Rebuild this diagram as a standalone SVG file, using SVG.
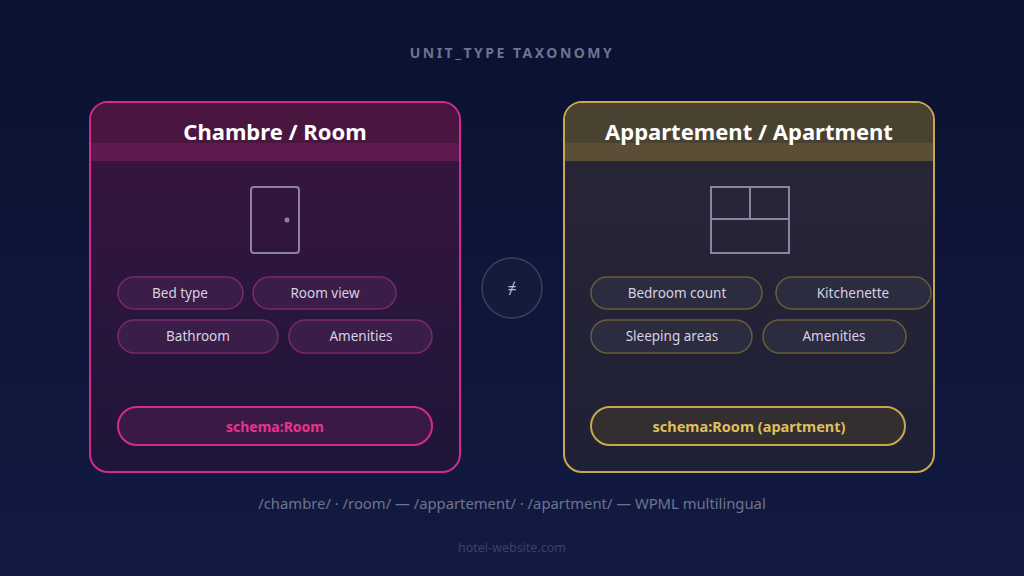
<svg xmlns="http://www.w3.org/2000/svg" width="1024" height="576" viewBox="0 0 1024 576">
<defs>
<linearGradient id="bg" x1="0" y1="0" x2="0" y2="1"><stop offset="0" stop-color="#0b1130"/><stop offset="1" stop-color="#121a42"/></linearGradient>
<linearGradient id="pk" x1="0" y1="0" x2="0" y2="1"><stop offset="0" stop-color="#3a1540"/><stop offset="1" stop-color="#1e1538"/></linearGradient>
<linearGradient id="gd" x1="0" y1="0" x2="0" y2="1"><stop offset="0" stop-color="#2a2636"/><stop offset="1" stop-color="#1e2036"/></linearGradient>
<style>
text{font-family:"Noto Sans","Open Sans",sans-serif;text-anchor:middle}
.t{font-size:22px;font-weight:bold;fill:#fff}
.c{font-size:13.5px;fill:#d6d2e0}
.pc{fill:#3a1d48;stroke:#7a2a6a;stroke-width:1.5}
.gc{fill:#2c2c40;stroke:#6a5d3a;stroke-width:1.5}
.ic{fill:none;stroke:#8a84a0;stroke-width:2}
</style>
</defs>
<rect width="1024" height="576" fill="url(#bg)"/>
<text x="512" y="58" style="font-size:14px;font-weight:bold;letter-spacing:2.5px;fill:#6e7490">UNIT_TYPE TAXONOMY</text>
<g id="room">
<rect x="90" y="102" width="370" height="370" rx="18" fill="url(#pk)" stroke="#d42a8e" stroke-width="2"/>
<path d="M108 103h334a17 17 0 0 1 17 17v40h-368v-40a17 17 0 0 1 17-17z" fill="#4a1640"/>
<rect x="91" y="143" width="368" height="18" fill="#5e1a4e"/>
<text class="t" x="275" y="140">Chambre / Room</text>
<rect class="ic" x="251" y="187" width="48" height="66" rx="3"/>
<circle cx="287" cy="220" r="2.5" fill="#8a84a0"/>
<rect class="pc" x="118" y="277" width="125" height="32" rx="16"/><text class="c" x="180" y="298">Bed type</text>
<rect class="pc" x="253" y="277" width="143" height="32" rx="16"/><text class="c" x="325" y="298">Room view</text>
<rect class="pc" x="118" y="320" width="160" height="33" rx="16.5"/><text class="c" x="198" y="341">Bathroom</text>
<rect class="pc" x="289" y="320" width="143" height="33" rx="16.5"/><text class="c" x="361" y="341">Amenities</text>
<rect x="118" y="407" width="314" height="38" rx="19" fill="#3a1a44" stroke="#d42a8e" stroke-width="2"/>
<text x="275" y="432" style="font-size:14px;font-weight:bold;fill:#e8338f">schema:Room</text>
</g>
<g id="apartment">
<rect x="564" y="102" width="370" height="370" rx="18" fill="url(#gd)" stroke="#c9a84c" stroke-width="2"/>
<path d="M582 103h334a17 17 0 0 1 17 17v40h-368v-40a17 17 0 0 1 17-17z" fill="#4a4230"/>
<rect x="565" y="143" width="368" height="18" fill="#5a4f36"/>
<text class="t" x="749" y="140">Appartement / Apartment</text>
<rect class="ic" x="711" y="187" width="78" height="66"/>
<line class="ic" x1="711" y1="219" x2="789" y2="219"/>
<line class="ic" x1="750" y1="187" x2="750" y2="219"/>
<rect class="gc" x="591" y="277" width="171" height="32" rx="16"/><text class="c" x="677" y="298">Bedroom count</text>
<rect class="gc" x="776" y="277" width="155" height="32" rx="16"/><text class="c" x="853" y="298">Kitchenette</text>
<rect class="gc" x="591" y="320" width="161" height="33" rx="16.5"/><text class="c" x="672" y="341">Sleeping areas</text>
<rect class="gc" x="763" y="320" width="143" height="33" rx="16.5"/><text class="c" x="834" y="341">Amenities</text>
<rect x="591" y="407" width="314" height="38" rx="19" fill="#332e30" stroke="#c9a84c" stroke-width="2"/>
<text x="749" y="432" style="font-size:14.5px;font-weight:bold;fill:#e0bf5a">schema:Room (apartment)</text>
</g>
<g id="neq">
<circle cx="512" cy="288" r="30" fill="#151b3a" stroke="#3a4060" stroke-width="1.5"/>
<text x="512" y="294" style="font-size:16px;fill:#b8bcd0">≠</text>
</g>
<g id="connectors"/>
<text x="512" y="509" style="font-size:14.8px;fill:#6e7490">/chambre/ · /room/ — /appartement/ · /apartment/ — WPML multilingual</text>
<text x="512" y="552" style="font-size:12.5px;fill:#3a4266">hotel-website.com</text>
</svg>
